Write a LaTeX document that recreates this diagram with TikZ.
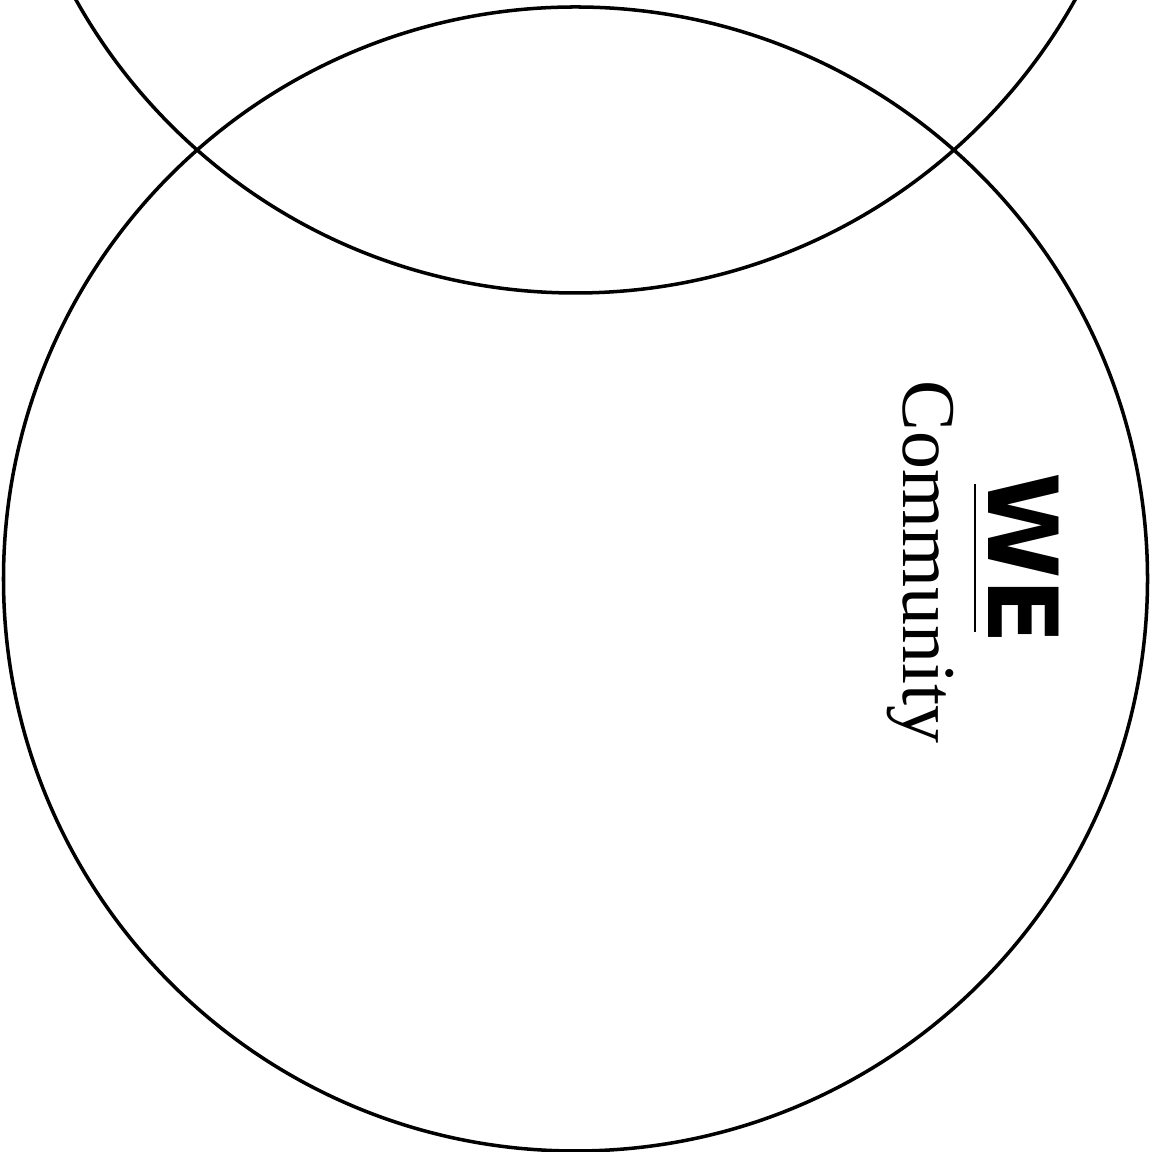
\documentclass[tikz,border=0pt]{standalone}
\usepackage{fontspec}
\newfontfamily\wefont{DejaVu Sans}
\newfontfamily\commfont{Liberation Serif}
\usetikzlibrary{calc}
\tikzset{
    ring/.style={draw, line width=1pt},
    welabel/.style={font=\wefont\bfseries\fontsize{27.5}{31}\selectfont, rotate=-90, anchor=base, inner sep=0pt},
    commlabel/.style={font=\commfont\fontsize{21.6}{25}\selectfont, rotate=-90, anchor=base, inner sep=0pt},
}
\begin{document}
\begin{tikzpicture}
    \useasboundingbox (0,0) rectangle (11.52,11.52);
    \clip (0,0) rectangle (11.52,11.52);

    % the two circles
    \draw[ring] (5.755,5.73) circle (5.72);
    \draw[ring] (5.755,14.31) circle (5.72);

    % labels
    \node[welabel] (we) at (9.88,5.935) {WE};
    \node[commlabel] (comm) at (9.03,5.90) {Community};

    \coordinate (ultop) at ($(we.base)+(-0.13,0.74)$);
    \coordinate (ulbot) at ($(we.base)+(-0.13,-0.74)$);
    \draw[line width=0.7pt] (ultop) -- (ulbot);
\end{tikzpicture}
\end{document}
